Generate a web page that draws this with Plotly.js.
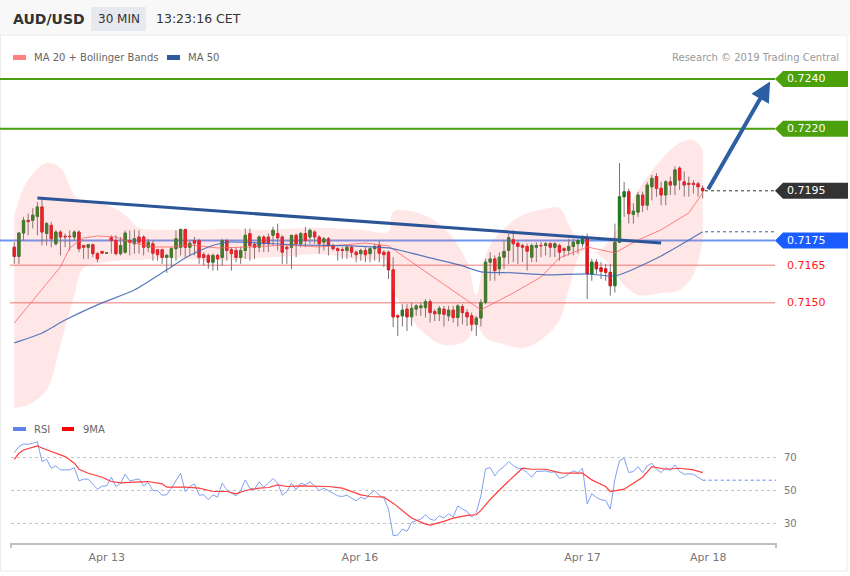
<!DOCTYPE html>
<html><head><meta charset="utf-8">
<script src="https://cdn.plot.ly/plotly-3.0.1.min.js"></script>
<style>html,body{margin:0;padding:0;background:#fff;}#chart{width:850px;height:576px;}</style>
</head><body><div id="chart"></div>
<script>
// ---------- DATA ----------
const candleOpen = [.71723,.71686,.71780,.71831,.71831,.71847,.71885,.71778,.71811,.71737,.71784,.71767,.71767,.71764,.71784,.71730,.71723,.71733,.71697,.71706,.71699,.71761,.71750,.71697,.71703,.71750,.71737,.71764,.71764,.71723,.71737,.71713,.71713,.71682,.71682,.71717,.71723,.71794,.71723,.71750,.71750,.71693,.71690,.71663,.71690,.71682,.71750,.71713,.71710,.71682,.71710,.71778,.71734,.71723,.71764,.71764,.71771,.71778,.71764,.71723,.71723,.71771,.71737,.71778,.71764,.71784,.71764,.71743,.71757,.71730,.71717,.71713,.71710,.71723,.71703,.71697,.71710,.71697,.71717,.71730,.71703,.71703,.71632,.71447,.71447,.71474,.71443,.71474,.71480,.71480,.71504,.71464,.71455,.71474,.71447,.71470,.71440,.71484,.71460,.71447,.71413,.71438,.71501,.71663,.71676,.71636,.71683,.71710,.71753,.71739,.71730,.71726,.71683,.71723,.71730,.71730,.71737,.71723,.71730,.71717,.71710,.71726,.71737,.71737,.71757,.71615,.71663,.71640,.71636,.71622,.71568,.71743,.71926,.71946,.71855,.71864,.71933,.71892,.71966,.72007,.71960,.71933,.71986,.71973,.72041,.71986,.71980,.71980,.71978,.71960];
const candleHigh = [.71743,.71784,.71845,.71858,.71880,.71905,.71919,.71825,.71825,.71791,.71791,.71778,.71791,.71791,.71791,.71730,.71737,.71737,.71703,.71708,.71702,.71771,.71771,.71764,.71791,.71791,.71794,.71791,.71771,.71757,.71750,.71715,.71717,.71697,.71723,.71791,.71798,.71798,.71750,.71764,.71757,.71703,.71697,.71697,.71697,.71757,.71757,.71723,.71723,.71725,.71798,.71798,.71743,.71771,.71771,.71778,.71805,.71818,.71771,.71730,.71771,.71778,.71784,.71805,.71798,.71791,.71771,.71764,.71764,.71737,.71723,.71723,.71730,.71730,.71710,.71717,.71723,.71723,.71737,.71750,.71710,.71710,.71683,.71453,.71494,.71494,.71500,.71494,.71500,.71514,.71514,.71474,.71487,.71487,.71487,.71487,.71494,.71494,.71474,.71460,.71447,.71514,.71676,.71703,.71690,.71703,.71750,.71778,.71791,.71750,.71737,.71737,.71737,.71743,.71743,.71743,.71743,.71743,.71737,.71723,.71757,.71757,.71757,.71771,.71778,.71676,.71676,.71663,.71656,.71656,.71818,.72062,.71986,.71959,.71899,.71946,.71946,.71986,.72014,.72021,.71986,.71993,.72007,.72048,.72048,.72028,.72007,.71993,.71986,.71973];
const candleLow = [.71656,.71656,.71750,.71771,.71799,.71771,.71730,.71730,.71723,.71730,.71690,.71723,.71710,.71750,.71703,.71676,.71676,.71683,.71663,.71698,.71698,.71697,.71690,.71690,.71697,.71690,.71697,.71697,.71690,.71703,.71669,.71669,.71656,.71620,.71645,.71669,.71690,.71683,.71690,.71690,.71656,.71649,.71636,.71629,.71629,.71649,.71669,.71629,.71663,.71656,.71676,.71669,.71676,.71703,.71703,.71703,.71730,.71710,.71656,.71656,.71636,.71683,.71723,.71723,.71737,.71737,.71697,.71710,.71690,.71710,.71669,.71676,.71676,.71683,.71663,.71669,.71663,.71663,.71669,.71663,.71643,.71595,.71402,.71366,.71404,.71386,.71406,.71447,.71447,.71440,.71420,.71426,.71426,.71404,.71426,.71420,.71404,.71413,.71406,.71386,.71366,.71404,.71494,.71588,.71588,.71609,.71636,.71656,.71663,.71656,.71663,.71629,.71663,.71663,.71683,.71690,.71683,.71683,.71669,.71683,.71690,.71690,.71697,.71723,.71514,.71588,.71615,.71595,.71588,.71528,.71541,.71740,.71845,.71818,.71818,.71845,.71864,.71872,.71912,.71926,.71892,.71892,.71933,.71933,.71953,.71926,.71926,.71939,.71926,.71919];
const candleClose = [.71686,.71780,.71831,.71826,.71852,.71885,.71784,.71818,.71757,.71784,.71764,.71765,.71766,.71784,.71717,.71723,.71733,.71697,.71676,.71699,.71700,.71750,.71697,.71730,.71780,.71743,.71757,.71743,.71723,.71743,.71699,.71693,.71682,.71690,.71717,.71757,.71794,.71723,.71739,.71739,.71682,.71682,.71663,.71690,.71676,.71750,.71710,.71697,.71682,.71710,.71771,.71730,.71723,.71764,.71737,.71737,.71791,.71761,.71703,.71717,.71771,.71737,.71778,.71750,.71791,.71764,.71737,.71757,.71730,.71717,.71710,.71710,.71723,.71703,.71693,.71710,.71693,.71717,.71726,.71699,.71693,.71632,.71443,.71443,.71470,.71443,.71477,.71487,.71487,.71504,.71460,.71455,.71477,.71453,.71470,.71440,.71487,.71460,.71443,.71413,.71438,.71501,.71663,.71676,.71629,.71683,.71706,.71761,.71737,.71726,.71723,.71707,.71730,.71730,.71729,.71737,.71723,.71737,.71703,.71710,.71726,.71743,.71750,.71757,.71615,.71663,.71636,.71626,.71622,.71568,.71743,.71926,.71946,.71858,.71868,.71933,.71892,.71973,.72000,.71960,.71933,.71986,.71973,.72034,.71993,.71973,.71976,.71976,.71966,.71950];

const ma20Idx = [0,6,10,12,15,18,22,25,30,34,38,44,51,59,66,76,81,91,101,108,114,118,124,130,135,140,146,149];
const ma20Val = [.71418,.71551,.71644,.71720,.71760,.71768,.71764,.71744,.71724,.71724,.71732,.71720,.71724,.71732,.71724,.71740,.71728,.71599,.71471,.71539,.71603,.71680,.71724,.71700,.71752,.71793,.71861,.71941];

const ma50Idx = [0,6,11,19,26,33,37,42,45,47,62,73,81,90,97,101,108,115,124,130,140,149];
const ma50Val = [.71338,.71378,.71430,.71499,.71551,.71632,.71680,.71724,.71740,.71744,.71732,.71728,.71720,.71680,.71648,.71624,.71620,.71612,.71616,.71608,.71688,.71785];

const bbIdx = [0,3,7,10,13,15,20,24,27,34,40,47,53,60,66,75,81,82,88,93,98,100,102,105,110,114,118,120,123,126,129,131,135,140,144,147,149];
const bbUpper = [.71853,.71994,.72062,.72042,.71933,.71905,.71893,.71853,.71801,.71793,.71793,.71797,.71793,.71797,.71801,.71793,.71785,.71865,.71857,.71801,.71664,.71531,.71692,.71780,.71853,.71873,.71881,.71813,.71720,.71704,.71752,.71813,.71953,.72074,.72143,.72155,.72114];
const bbLower = [.71076,.71089,.71149,.71330,.71531,.71640,.71664,.71672,.71672,.71680,.71672,.71672,.71680,.71688,.71696,.71672,.71664,.71551,.71390,.71330,.71350,.71410,.71358,.71338,.71318,.71350,.71430,.71551,.71704,.71696,.71652,.71591,.71531,.71539,.71551,.71612,.71752];

const trendIdx = [5, 140];
const trendVal = [.71921, .71740];
const arrowFrom = [150, 0.7195];
const arrowTo = [163.6, 0.7239];

const rsiVal = [72.8,76.4,78,77.8,78.4,79.4,67.4,68.8,63.4,64.8,62.4,62.4,62.4,63.8,55.8,56.8,56.8,53.8,50.8,52.6,52.8,58,52.4,54.4,59.8,55.8,56.4,57,52.8,54.8,50,50,47.2,47.4,51.4,55.8,60.4,49.4,52.4,54,47.2,47.4,44.4,47.4,46,54.4,50.4,48.4,46.8,50,56.4,51.2,50.8,55.2,52,54.4,57.2,54.4,47.2,49.4,54.4,50.4,54.4,53.4,55.2,52.8,50,51.4,49.8,48,46.8,46.4,47.2,45.4,43.8,46,44.8,48,50,47.2,45.4,38.8,22.8,23.2,26.8,25.4,30.8,31.8,32.8,35.4,32.8,32,34.8,33.4,36,34,40.8,38.8,37.4,34,36.8,46.8,63,63.8,58.8,62.4,64.4,67.4,65,63.4,63,60.8,58,61.4,61.8,61.8,61,61.2,57.2,58,60,61.8,60.8,63.4,42,48,45.8,44.4,44,38.8,56.8,68,69.4,60.8,61.4,64.4,60.8,64.8,66.4,62.8,60.8,63.8,62,65.4,61.4,59.8,60,59.8,58,56.2];
const rsiMaIdx = [0,1,2,4,5,6,8,11,13,14,16,19,21,23,26,29,32,33,37,40,43,46,48,50,53,55,57,59,62,65,68,71,73,75,77,80,82,84,86,89,90,93,95,98,100,101,103,106,110,112,115,118,119,123,125,128,129,132,134,136,138,141,144,147,149];
const rsiMaVal = [68.8,72.4,74.4,75.8,76.8,75.6,73.4,70.4,66.4,62.8,60.4,58,55.4,54.6,55,55.4,54,52,52,51.4,49.4,49.4,48,50,51.4,51.8,53.4,52.4,52.8,52.4,52.4,51.4,49.4,47.4,46.4,46,42.4,38,33.4,29.8,29.2,31.4,33.4,35,35.4,38,44.6,53,63.4,62.8,62.8,60.8,60.4,60.4,56.4,52.4,49.4,50.8,54.4,58,64.4,62.8,63.4,62.4,60.8];

const xTickPos = [20, 74.8, 123, 150.2];
const xTickText = ['Apr 13', 'Apr 16', 'Apr 17', 'Apr 18'];
const rsiTicks = [30, 50, 70];

const levelGreen = [0.7240, 0.7220];
const levelCurrent = 0.7195;
const levelBlue = 0.7175;
const levelRed = [0.7165, 0.7150];

// ---------- GEOMETRY ----------
const ML = 11, MR = 74, MT = 65, MB = 33, PW = 850 - ML - MR, PH = 576 - MT - MB;
const px2x = px => (px - ML) / PW;
const px2y = py => (576 - MB - py) / PH;
const xRange = [-0.71, 164.87];
const FONT = 'DejaVu Sans, Verdana, sans-serif';

const candleIdx = candleOpen.map((_, i) => i);
const bodyHigh = candleOpen.map((o, i) => Math.max(o, candleClose[i]));
const bodyLow = candleOpen.map((o, i) => Math.min(o, candleClose[i]));
const lastIdx = candleIdx[candleIdx.length - 1];

const traces = [
  {x: bbIdx, y: bbUpper, type: 'scatter', mode: 'lines', line: {width: 0, shape: 'spline', smoothing: 1}, hoverinfo: 'skip'},
  {x: bbIdx, y: bbLower, type: 'scatter', mode: 'lines', fill: 'tonexty', fillcolor: 'rgba(255,110,110,0.17)', line: {width: 0, shape: 'spline', smoothing: 1}, hoverinfo: 'skip'},
  {x: ma20Idx, y: ma20Val, type: 'scatter', mode: 'lines', line: {color: 'rgba(255,90,90,0.75)', width: 1}, hoverinfo: 'skip'},
  {x: ma50Idx, y: ma50Val, type: 'scatter', mode: 'lines', line: {color: 'rgba(60,100,180,0.85)', width: 1.2, shape: 'spline', smoothing: 0.6}, hoverinfo: 'skip'},
  {x: trendIdx, y: trendVal, type: 'scatter', mode: 'lines', line: {color: '#2b5597', width: 3}, hoverinfo: 'skip'},
  {x: candleIdx, open: candleOpen, high: candleHigh, low: candleLow, close: candleClose, type: 'candlestick', whiskerwidth: 0,
   increasing: {line: {color: '#7a7373', width: 1}, fillcolor: '#7a7373'}, decreasing: {line: {color: '#7a7373', width: 1}, fillcolor: '#7a7373'}, hoverinfo: 'skip'},
  {x: candleIdx, open: candleOpen, high: bodyHigh, low: bodyLow, close: candleClose, type: 'candlestick', whiskerwidth: 0,
   increasing: {line: {color: '#1f7d1f', width: 1}, fillcolor: '#1f7d1f'}, decreasing: {line: {color: '#e8141c', width: 1}, fillcolor: '#e8141c'}, hoverinfo: 'skip'},
  {x: [lastIdx + 0.5, xRange[1]], y: [levelCurrent, levelCurrent], type: 'scatter', mode: 'lines', line: {color: '#333', width: 1, dash: 'dot'}, hoverinfo: 'skip'},
  {x: [lastIdx + 0.5, xRange[1]], y: [ma50Val[ma50Val.length - 1], ma50Val[ma50Val.length - 1]], type: 'scatter', mode: 'lines', line: {color: '#3a5f9a', width: 1, dash: 'dot'}, hoverinfo: 'skip'},
  {x: candleIdx, y: rsiVal, yaxis: 'y2', type: 'scatter', mode: 'lines', line: {color: '#7f9ff2', width: 1}, hoverinfo: 'skip'},
  {x: rsiMaIdx, y: rsiMaVal, yaxis: 'y2', type: 'scatter', mode: 'lines', line: {color: '#ff3d3d', width: 1.2}, hoverinfo: 'skip'},
  {x: [lastIdx, xRange[1]], y: [rsiVal[rsiVal.length - 1], rsiVal[rsiVal.length - 1]], yaxis: 'y2', type: 'scatter', mode: 'lines', line: {color: '#5d84ea', width: 1, dash: 'dot'}, hoverinfo: 'skip'}
];

const shapes = [];
const annotations = [];
// frame and header
shapes.push({type: 'rect', xref: 'paper', yref: 'paper', x0: px2x(0), x1: px2x(850), y0: px2y(35), y1: px2y(0), fillcolor: '#f8f8f8', line: {width: 0}, layer: 'below'});
shapes.push({type: 'rect', xref: 'paper', yref: 'paper', x0: px2x(0.5), x1: px2x(847), y0: px2y(571), y1: px2y(35), fillcolor: 'rgba(0,0,0,0)', line: {width: 1, color: '#ececec'}, layer: 'below'});
shapes.push({type: 'rect', xref: 'paper', yref: 'paper', x0: px2x(91), x1: px2x(146), y0: px2y(31), y1: px2y(7), fillcolor: '#e8e9ee', line: {width: 0}, layer: 'below'});
annotations.push({xref: 'paper', yref: 'paper', x: px2x(11), y: px2y(19), xanchor: 'left', yanchor: 'middle', text: '<b>AUD/USD</b>', showarrow: false, font: {family: FONT, size: 14, color: '#333'}});
annotations.push({xref: 'paper', yref: 'paper', x: px2x(118.5), y: px2y(19), xanchor: 'center', yanchor: 'middle', text: '30 MIN', showarrow: false, font: {family: FONT, size: 12, color: '#333'}});
annotations.push({xref: 'paper', yref: 'paper', x: px2x(154), y: px2y(19), xanchor: 'left', yanchor: 'middle', text: '13:23:16 CET', showarrow: false, font: {family: FONT, size: 12.5, color: '#333'}});
// legends
shapes.push({type: 'rect', xref: 'paper', yref: 'paper', x0: px2x(13), x1: px2x(26), y0: px2y(60), y1: px2y(55), fillcolor: '#ff8080', line: {width: 0}});
shapes.push({type: 'rect', xref: 'paper', yref: 'paper', x0: px2x(167), x1: px2x(180), y0: px2y(60), y1: px2y(55), fillcolor: '#2d5b9e', line: {width: 0}});
annotations.push({xref: 'paper', yref: 'paper', x: px2x(32), y: px2y(57.5), xanchor: 'left', yanchor: 'middle', text: 'MA 20 + Bollinger Bands', showarrow: false, font: {family: FONT, size: 10, color: '#666'}});
annotations.push({xref: 'paper', yref: 'paper', x: px2x(186), y: px2y(57.5), xanchor: 'left', yanchor: 'middle', text: 'MA 50', showarrow: false, font: {family: FONT, size: 10, color: '#666'}});
annotations.push({xref: 'paper', yref: 'paper', x: px2x(841), y: px2y(57.5), xanchor: 'right', yanchor: 'middle', text: 'Research © 2019 Trading Central', showarrow: false, font: {family: FONT, size: 10, color: '#999'}});
shapes.push({type: 'rect', xref: 'paper', yref: 'paper', x0: px2x(13), x1: px2x(26), y0: px2y(431), y1: px2y(427), fillcolor: '#5d84ea', line: {width: 0}});
shapes.push({type: 'rect', xref: 'paper', yref: 'paper', x0: px2x(62), x1: px2x(74), y0: px2y(431), y1: px2y(427), fillcolor: '#ff0000', line: {width: 0}});
annotations.push({xref: 'paper', yref: 'paper', x: px2x(32), y: px2y(429), xanchor: 'left', yanchor: 'middle', text: 'RSI', showarrow: false, font: {family: FONT, size: 10, color: '#666'}});
annotations.push({xref: 'paper', yref: 'paper', x: px2x(81), y: px2y(429), xanchor: 'left', yanchor: 'middle', text: '9MA', showarrow: false, font: {family: FONT, size: 10, color: '#666'}});
// axis end ticks
[11, 776].forEach(p => shapes.push({type: 'line', xref: 'paper', yref: 'paper', x0: px2x(p), x1: px2x(p), y0: px2y(543), y1: px2y(548), line: {color: '#c0c0c0', width: 2}}));

// level lines and labels
function labelBox(level, color) {
  shapes.push({type: 'path', xref: 'paper', yref: 'y', xsizemode: 'pixel', ysizemode: 'pixel', xanchor: 1, yanchor: level,
    path: 'M -1 0 L 7 8 L 72 8 L 72 -8 L 7 -8 Z', fillcolor: color, line: {width: 0}});
  annotations.push({xref: 'paper', yref: 'y', x: 1, y: level, xanchor: 'left', yanchor: 'middle', xshift: 9, text: level.toFixed(4), showarrow: false, font: {family: FONT, size: 11, color: '#fff'}});
}
levelGreen.forEach(v => {
  shapes.push({type: 'line', xref: 'paper', yref: 'y', x0: px2x(0), x1: px2x(775), y0: v, y1: v, line: {color: '#4b9e0e', width: 2}, layer: 'below'});
  labelBox(v, '#4ba00c');
});
shapes.push({type: 'line', xref: 'paper', yref: 'y', x0: px2x(0), x1: px2x(775), y0: levelBlue, y1: levelBlue, line: {color: '#6a95f2', width: 2}, layer: 'below'});
labelBox(levelBlue, '#1a5cff');
labelBox(levelCurrent, '#333333');
levelRed.forEach(v => {
  shapes.push({type: 'line', xref: 'paper', yref: 'y', x0: px2x(10), x1: px2x(775), y0: v, y1: v, line: {color: '#f5a3a3', width: 1.5}, layer: 'below'});
  annotations.push({xref: 'paper', yref: 'y', x: 1, y: v, xanchor: 'left', yanchor: 'middle', xshift: 9, text: v.toFixed(4), showarrow: false, font: {family: FONT, size: 11, color: '#ff1a1a'}});
});
// target arrow
annotations.push({xref: 'x', yref: 'y', axref: 'x', ayref: 'y', x: arrowTo[0], y: arrowTo[1], ax: arrowFrom[0], ay: arrowFrom[1], text: '', showarrow: true,
  arrowhead: 2, arrowsize: 1, arrowwidth: 4, arrowcolor: '#2d5fa3'});

const layout = {
  width: 850, height: 576,
  margin: {l: ML, r: MR, t: MT, b: MB, pad: 0},
  paper_bgcolor: '#ffffff', plot_bgcolor: 'rgba(0,0,0,0)',
  showlegend: false,
  font: {family: FONT},
  xaxis: {range: xRange, tickvals: xTickPos, ticktext: xTickText, showgrid: false, zeroline: false, showline: true,
    linecolor: '#c0c0c0', linewidth: 2, ticks: '', ticklabelstandoff: 3, tickfont: {family: FONT, size: 11, color: '#777'}, anchor: 'y2',
    rangeslider: {visible: false}, fixedrange: true},
  yaxis: {domain: [px2y(418), 1], range: [0.71036, 0.72456], visible: false, fixedrange: true},
  yaxis2: {domain: [0, px2y(438)], range: [18.4, 81.6], side: 'right', tickvals: rsiTicks, showgrid: true, gridcolor: '#c4c4c4',
    griddash: 'dot', gridwidth: 1, zeroline: false, showline: false, ticks: '', ticklabelstandoff: 7,
    tickfont: {family: FONT, size: 10, color: '#777'}, fixedrange: true},
  shapes: shapes,
  annotations: annotations
};

Plotly.newPlot('chart', traces, layout, {staticPlot: true, displayModeBar: false});
</script></body></html>
